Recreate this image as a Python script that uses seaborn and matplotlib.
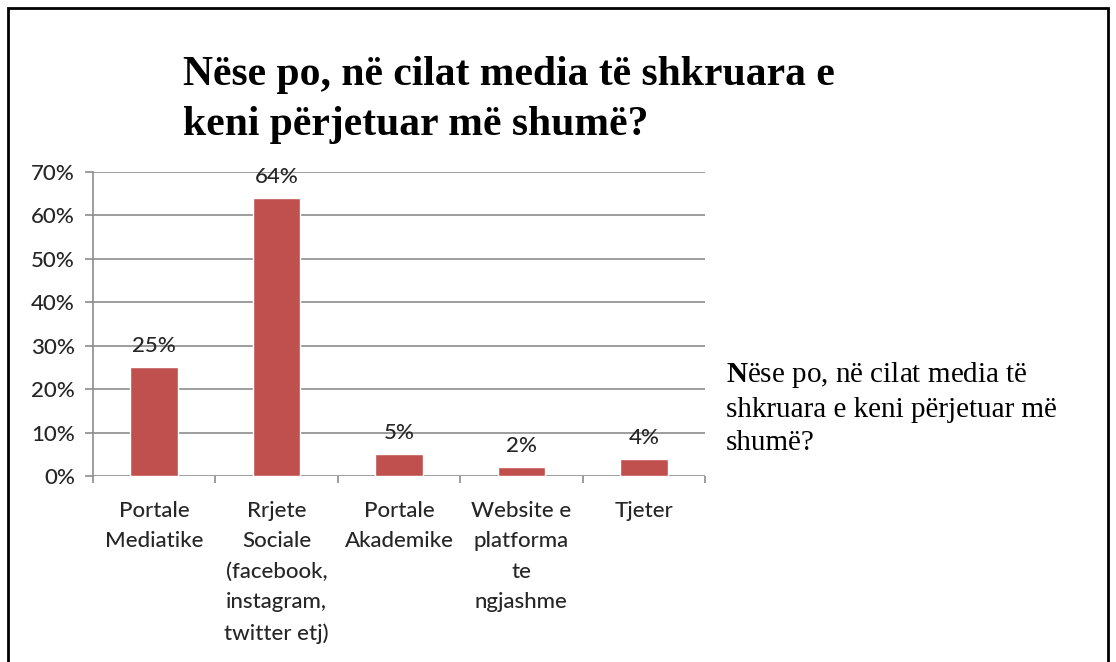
import matplotlib
matplotlib.use("Agg")
import matplotlib.pyplot as plt
import seaborn as sns
import pandas as pd
from matplotlib.ticker import PercentFormatter

# data
categories = ["Portale\nMediatike",
              "Rrjete\nSociale\n(facebook,\ninstagram,\ntwitter etj)",
              "Portale\nAkademike",
              "Website e\nplatforma\nte\nngjashme",
              "Tjeter"]
shares = [0.25, 0.64, 0.05, 0.02, 0.04]
value_labels = ["25%", "64%", "5%", "2%", "4%"]
yticks = [0, 0.1, 0.2, 0.3, 0.4, 0.5, 0.6, 0.7]

title = "Nëse po, në cilat media të shkruara e\nkeni përjetuar më shumë?"
legend_text = "$\\mathbf{N}$ëse po, në cilat media të\nshkruara e keni përjetuar më\nshumë?"

sns.set_style("white")
plt.rcParams["font.family"] = ["Lato", "DejaVu Sans"]
plt.rcParams["font.weight"] = "medium"
plt.rcParams["mathtext.fontset"] = "custom"
plt.rcParams["mathtext.bf"] = "Liberation Serif:bold"
plt.rcParams["mathtext.rm"] = "Liberation Serif"

df = pd.DataFrame({"cat": categories, "share": shares})
text_col = "#262626"
grid_col = "#8c8c8c"

fig = plt.figure(figsize=(11.16, 6.62), dpi=100)
ax = fig.add_axes([93 / 1116, 1 - 476 / 662, 612 / 1116, 304 / 662])

sns.barplot(data=df, x="cat", y="share", color="#C0504D", saturation=1,
            width=0.39, ax=ax)

ax.set_ylim(0, 0.7)
ax.set_xlim(-0.5, len(categories) - 0.5)
ax.set_yticks(yticks)
ax.yaxis.set_major_formatter(PercentFormatter(1.0, decimals=0))
ax.set_xlabel("")
ax.set_ylabel("")
ax.grid(axis="y", color=grid_col, linewidth=1.2)
ax.set_axisbelow(True)
for s in ["top", "right", "bottom"]:
    ax.spines[s].set_visible(False)
ax.spines["left"].set_color(grid_col)
ax.spines["left"].set_linewidth(1.2)

ax.tick_params(axis="y", length=6, width=1.2, color=grid_col, pad=7,
               labelsize=16, labelcolor=text_col, left=True)
# category boundary ticks on x axis
ax.set_xticks([i - 0.5 for i in range(len(categories) + 1)], minor=True)
ax.tick_params(axis="x", which="minor", length=5, width=1.2, color=grid_col, bottom=True)
ax.tick_params(axis="x", which="major", length=0, pad=18, labelsize=16, labelcolor=text_col)
ax.set_xticks(range(len(categories)))
ax.set_xticklabels(categories, linespacing=1.65, ha="center", va="top")

for i, (v, lab) in enumerate(zip(shares, value_labels)):
    ax.annotate(lab, (i, v), xytext=(0, 8), textcoords="offset points",
                ha="center", va="bottom", fontsize=16, color=text_col)

fig.text(183 / 1116, 1 - 56 / 662, title, ha="left", va="top",
         fontsize=30, fontweight="bold", family="Liberation Serif",
         linespacing=1.43, color="black")

fig.text(726 / 1116, 1 - 360 / 662, legend_text, ha="left", va="top",
         fontsize=21, family="Liberation Serif", linespacing=1.35, color="black")

# outer frame
fig.add_artist(plt.Rectangle((8 / 1116, -0.01), 1100 / 1116, 1 - 8 / 662 + 0.01,
                             transform=fig.transFigure, fill=False,
                             edgecolor="black", linewidth=2))

fig.savefig("out.png", dpi=100)
